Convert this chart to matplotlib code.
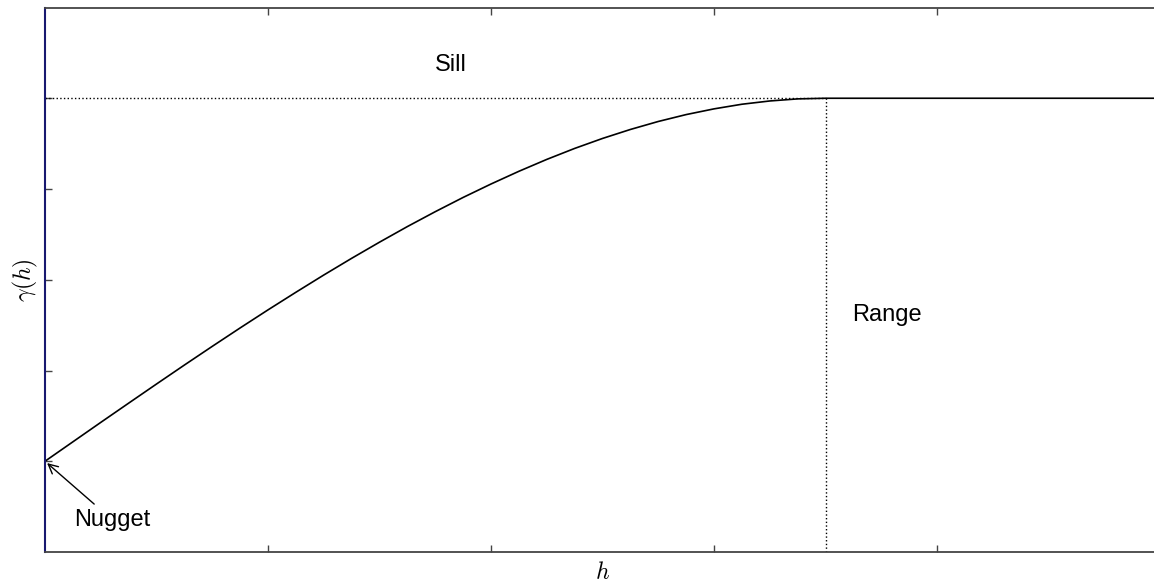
import numpy as np
import matplotlib.pyplot as plt

plt.rcParams['font.family'] = ['Liberation Sans', 'DejaVu Sans']
plt.rcParams['mathtext.fontset'] = 'cm'

# semivariogram values (lag h, gamma)
lag = [0.0, 1.25, 2.5, 3.75, 5.0, 6.25, 7.5, 8.75, 10.0, 11.25, 12.5, 13.75,
       15.0, 16.25, 17.5, 18.75, 20.0, 21.25, 22.5, 23.75, 25.0, 26.25,
       27.5, 28.75, 30.0, 31.25, 32.5, 33.75, 35.0, 50.0]
gamma = [1.000, 1.214, 1.428, 1.640, 1.851, 2.060, 2.266, 2.469, 2.668, 2.862,
         3.052, 3.236, 3.414, 3.586, 3.750, 3.907, 4.055, 4.195, 4.326, 4.447,
         4.557, 4.656, 4.744, 4.820, 4.883, 4.934, 4.970, 4.993, 5.000, 5.000]

nugget = 1.0
sill = 5.0
vrange = 35.0

fig = plt.figure(figsize=(11.54, 5.87), dpi=100)
ax = fig.add_axes([45/1154, 35/587, 1115/1154, 544.5/587])

# model curve
ax.plot(lag, gamma, color='black', lw=1.2)

# sill and range guides
ax.plot([0, vrange], [sill, sill], color='black', ls=':', lw=1)
ax.plot([vrange, vrange], [0, sill], color='black', ls=':', lw=1)

ax.text(17.5, 5.3, 'Sill', fontsize=17)
ax.text(36.2, 2.55, 'Range', fontsize=17)
ax.annotate('Nugget', xy=(0, nugget), xytext=(1.3, 0.29), fontsize=17,
            arrowprops=dict(arrowstyle='->', color='black', lw=1))

ax.set_xlim(0, 50)
ax.set_ylim(0, 6)
ax.set_xticks([10, 20, 30, 40])
ax.set_yticks([1, 2, 3, 4, 5])
ax.set_xticklabels([])
ax.set_yticklabels([])
ax.tick_params(direction='in', length=5, width=1, color='#444444', top=True, right=False)

for side in ['top', 'bottom', 'right']:
    ax.spines[side].set_color('#444444')
    ax.spines[side].set_linewidth(1.3)
ax.spines['left'].set_color('#191970')
ax.spines['left'].set_linewidth(1.5)

ax.set_xlabel('$h$', fontsize=17, labelpad=4)
ax.set_ylabel(r'$\gamma(h)$', fontsize=17, labelpad=0)

fig.savefig('out.png', dpi=100)
